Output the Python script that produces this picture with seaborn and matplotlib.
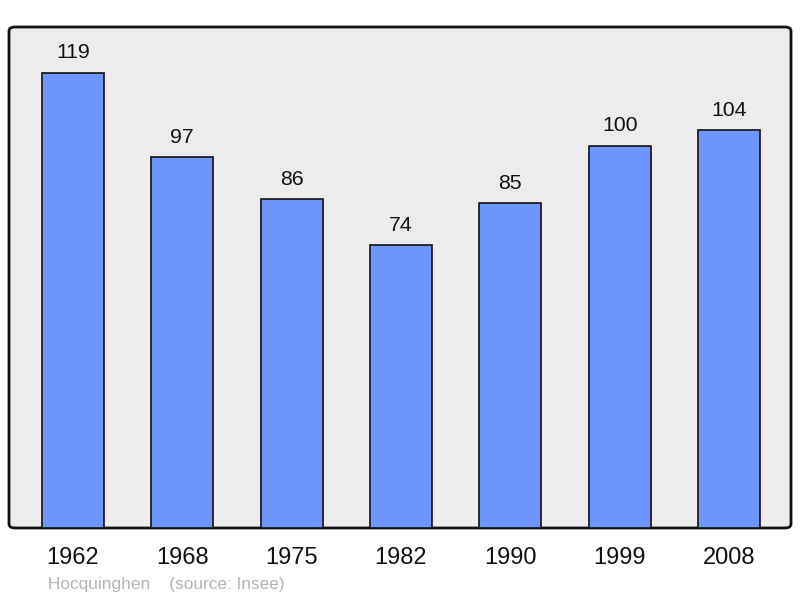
import matplotlib
matplotlib.use("Agg")
import matplotlib.pyplot as plt
from matplotlib.patches import FancyBboxPatch
import seaborn as sns
import pandas as pd

years = ["1962", "1968", "1975", "1982", "1990", "1999", "2008"]
population = [119, 97, 86, 74, 85, 100, 104]
commune = "Hocquinghen"
source = "(source: Insee)"

sns.set_style("white")
plt.rcParams['font.family'] = ['Liberation Sans', 'DejaVu Sans']

df = pd.DataFrame({"annee": years, "pop": population})

fig = plt.figure(figsize=(8, 5.98), dpi=100)
ax = fig.add_axes([9 / 800, 70 / 598, 782 / 800, 501 / 598])
ax.set_facecolor("none")

frame = FancyBboxPatch((0, 0), 1, 1, boxstyle="round,pad=0,rounding_size=0.008",
                       transform=ax.transAxes, facecolor="#ececec", edgecolor="#111111",
                       linewidth=2, zorder=0, clip_on=False)
ax.add_patch(frame)

sns.barplot(data=df, x="annee", y="pop", color="#6f96ff", saturation=1,
            width=0.567, edgecolor="#111111", linewidth=1.2, ax=ax, zorder=2)

for i, v in enumerate(population):
    ax.annotate(str(v), (i, v), xytext=(0, 7.5), textcoords="offset points",
                ha="center", va="bottom", fontsize=15.3, color="#111111")

for s in ax.spines.values():
    s.set_visible(False)
ax.set_xlim(-0.585, 6.567)
ax.set_ylim(0, 131)
ax.set_yticks([])
ax.set_xlabel("")
ax.set_ylabel("")
ax.tick_params(axis="x", length=0, pad=14, labelsize=17, labelcolor="#111111")

fig.text(48 / 800, 1 - 584 / 598, commune + "    " + source, fontsize=12.4,
         color="#b4b4b4", ha="left", va="center")

fig.savefig("out.png", dpi=100, facecolor="white")
